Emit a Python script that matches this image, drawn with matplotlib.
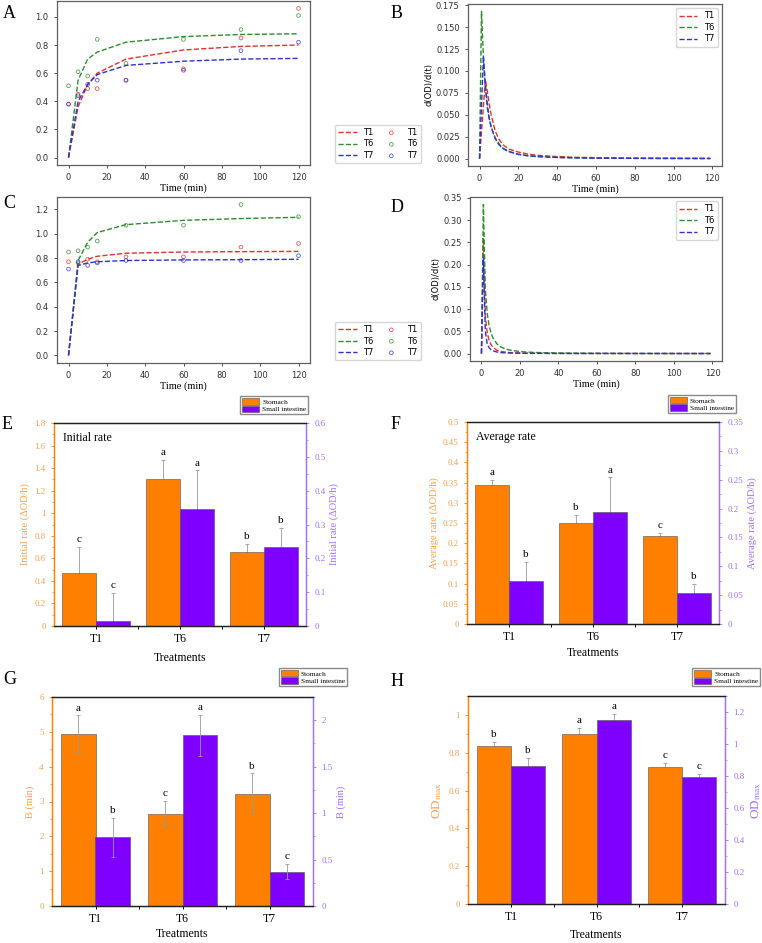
import matplotlib
matplotlib.use('Agg')
import matplotlib.pyplot as plt
import numpy as np
from matplotlib.ticker import MultipleLocator, FuncFormatter, AutoMinorLocator, FixedLocator
from matplotlib.patches import Patch

plt.rcParams['mathtext.fontset'] = 'stix'

# ---- time course data ----
times = [0, 5, 10, 15, 30, 60, 90, 120]
groups = ['T1', 'T6', 'T7']

# stomach (A)
st_obs_t1 = [0.38, 0.45, 0.49, 0.49, 0.55, 0.63, 0.85, 1.06]
st_obs_t6 = [0.51, 0.61, 0.58, 0.84, 0.67, 0.84, 0.91, 1.01]
st_obs_t7 = [0.38, 0.44, 0.52, 0.55, 0.55, 0.62, 0.76, 0.82]
st_fit_t1 = [0, 0.36, 0.52, 0.60, 0.70, 0.765, 0.79, 0.80]
st_fit_t6 = [0, 0.55, 0.70, 0.75, 0.82, 0.86, 0.875, 0.88]
st_fit_t7 = [0, 0.40, 0.52, 0.59, 0.655, 0.685, 0.70, 0.705]

# small intestine (C)
si_obs_t1 = [0.77, 0.76, 0.79, 0.77, 0.81, 0.81, 0.89, 0.92]
si_obs_t6 = [0.85, 0.86, 0.89, 0.94, 1.07, 1.07, 1.24, 1.14]
si_obs_t7 = [0.71, 0.77, 0.74, 0.76, 0.78, 0.78, 0.78, 0.82]
si_fit_t1 = [0, 0.75, 0.79, 0.815, 0.84, 0.85, 0.853, 0.855]
si_fit_t6 = [0, 0.78, 0.93, 1.01, 1.075, 1.11, 1.125, 1.135]
si_fit_t7 = [0, 0.74, 0.76, 0.77, 0.78, 0.785, 0.787, 0.79]

# derivative curves (B, D)
rate_t = [0, 1, 2, 3, 4, 5, 6, 8, 10, 12, 15, 20, 25, 30, 40, 50, 60, 80, 100, 119]
st_rate_t1 = [0, 0.03, 0.06, 0.09, 0.077, 0.062, 0.05, 0.032, 0.022, 0.016, 0.011, 0.0075,
              0.0052, 0.0038, 0.0023, 0.0015, 0.0011, 0.0006, 0.0004, 0.0003]
st_rate_t6 = [0, 0.168, 0.115, 0.08, 0.058, 0.045, 0.036, 0.024, 0.017, 0.012, 0.0085, 0.005,
              0.0033, 0.0024, 0.0014, 0.0009, 0.0006, 0.0003, 0.0002, 0.0002]
st_rate_t7 = [0, 0.06, 0.117, 0.084, 0.062, 0.046, 0.036, 0.023, 0.016, 0.0115, 0.008, 0.0048,
              0.0032, 0.0023, 0.0013, 0.0009, 0.0006, 0.0003, 0.0002, 0.0001]
si_rate_t1 = [0, 0.26, 0.085, 0.046, 0.029, 0.02, 0.0135, 0.0075, 0.0048, 0.0034, 0.0022, 0.0013,
              0.0009, 0.0006, 0.0004, 0.0002, 0.00015, 0.0001, 0.00005, 0.00004]
si_rate_t6 = [0, 0.335, 0.145, 0.09, 0.062, 0.046, 0.035, 0.022, 0.015, 0.011, 0.0075, 0.0045,
              0.003, 0.0021, 0.0012, 0.0008, 0.0006, 0.0003, 0.0002, 0.00015]
si_rate_t7 = [0, 0.215, 0.05, 0.022, 0.013, 0.0085, 0.006, 0.0035, 0.0022, 0.0016, 0.001, 0.0006,
              0.0004, 0.0003, 0.0002, 0.0001, 0.0001, 0.00005, 0.00003, 0.00002]

# ---- bar data ----
init_st = [0.47, 1.30, 0.66]
init_st_err = [0.23, 0.17, 0.07]
init_si = [0.016, 0.345, 0.233]
init_si_err = [0.083, 0.115, 0.057]
init_st_let = ['c', 'a', 'b']
init_si_let = ['c', 'a', 'b']

avg_st = [0.343, 0.251, 0.217]
avg_st_err = [0.014, 0.02, 0.009]
avg_si = [0.075, 0.194, 0.054]
avg_si_err = [0.032, 0.06, 0.015]
avg_st_let = ['a', 'b', 'c']
avg_si_let = ['b', 'a', 'b']

b_st = [4.95, 2.65, 3.21]
b_st_err = [0.52, 0.36, 0.60]
b_si = [0.74, 1.84, 0.37]
b_si_err = [0.21, 0.22, 0.08]
b_st_let = ['a', 'c', 'b']
b_si_let = ['b', 'a', 'c']

od_st = [0.836, 0.901, 0.727]
od_st_err = [0.02, 0.03, 0.019]
od_si = [0.862, 1.152, 0.794]
od_si_err = [0.05, 0.038, 0.018]
od_st_let = ['b', 'a', 'c']
od_si_let = ['b', 'a', 'c']

LINE_COLORS = ['#e03030', '#2e8b2e', '#3030d0']
ORANGE = '#ff8000'
PURPLE = '#8000ff'
ORANGE_TXT = '#f5a050'
PURPLE_TXT = '#a070ff'
SERIF = 'Liberation Serif'

fig = plt.figure(figsize=(7.62, 9.43), dpi=100)


def px_axes(x0, y0, x1, y1):
    return fig.add_axes([x0 / 762, 1 - y1 / 943, (x1 - x0) / 762, (y1 - y0) / 943])


def style_time_axes(ax):
    for s in ax.spines.values():
        s.set_color('#606060')
        s.set_linewidth(0.9)
    ax.tick_params(labelsize=6, length=2.5, width=0.6, colors='#303030')
    ax.set_xlabel('Time (min)', family=SERIF, fontsize=7.5, labelpad=1)


def fit_panel(ax, obs, fits):
    lines, dots = [], []
    for o, f, c, g in zip(obs, fits, LINE_COLORS, groups):
        ln, = ax.plot(times, f, '--', color=c, lw=1.0, label=g)
        sc = ax.scatter(times, o, s=7, facecolors='none', edgecolors=c, linewidths=0.6, alpha=0.8, label=g)
        lines.append(ln)
        dots.append(sc)
    style_time_axes(ax)
    ax.set_xticks([0, 20, 40, 60, 80, 100, 120])
    return lines + dots


def rate_panel(ax, rates):
    for r, c, g in zip(rates, LINE_COLORS, groups):
        ax.plot(rate_t, r, '--', color=c, lw=1.0, label=g)
    style_time_axes(ax)
    ax.set_xticks([0, 20, 40, 60, 80, 100, 120])
    ax.set_ylabel('d(OD)/d(t)', fontsize=6, labelpad=2)
    ax.legend(loc='upper right', fontsize=6, handlelength=2.2, borderpad=0.4, labelspacing=0.3)


fmt = FuncFormatter(lambda v, p: '%g' % round(v, 4))


def bar_panel(ax, st, st_err, si, si_err, st_let, si_let, ylim_l, step_l, ylim_r, step_r,
              ylab, leg_anchor, title=None, err_front=False, ylab_size=7.5, xpad=5):
    x = np.arange(1, 4)
    w = 0.4
    ax2 = ax.twinx()
    ez = 4 if err_front else 1
    ax.bar(x - w / 2, st, w, color=ORANGE, edgecolor='#505050', linewidth=0.4, zorder=2)
    ax.errorbar(x - w / 2, st, yerr=st_err, fmt='none', ecolor='#9a9a9a', elinewidth=0.6,
                capsize=1.5, capthick=0.6, zorder=ez)
    ax2.bar(x + w / 2, si, w, color=PURPLE, edgecolor='#505050', linewidth=0.4, zorder=2)
    ax2.errorbar(x + w / 2, si, yerr=si_err, fmt='none', ecolor='#9a9a9a', elinewidth=0.6,
                 capsize=1.5, capthick=0.6, zorder=ez)
    for xi, v, e, l in zip(x - w / 2, st, st_err, st_let):
        ax.annotate(l, (xi, v + e), xytext=(0, 2), textcoords='offset points', ha='center',
                    va='bottom', fontsize=8, family=SERIF)
    for xi, v, e, l in zip(x + w / 2, si, si_err, si_let):
        ax2.annotate(l, (xi, v + e), xytext=(0, 2), textcoords='offset points', ha='center',
                     va='bottom', fontsize=8, family=SERIF)
    ax.set_xlim(0.5, 3.5)
    ax.set_ylim(*ylim_l)
    ax2.set_ylim(*ylim_r)
    ax.yaxis.set_major_locator(MultipleLocator(step_l))
    ax2.yaxis.set_major_locator(MultipleLocator(step_r))
    ax.yaxis.set_minor_locator(AutoMinorLocator(2))
    ax2.yaxis.set_minor_locator(AutoMinorLocator(2))
    ax.yaxis.set_major_formatter(fmt)
    ax2.yaxis.set_major_formatter(fmt)
    ax.set_xticks(x)
    ax.set_xticklabels(groups, family=SERIF, fontsize=8.5)
    ax.xaxis.set_minor_locator(FixedLocator([1.5, 2.5]))
    ax.tick_params(axis='x', which='both', length=2.5, width=0.7, pad=2.5)
    ax.tick_params(axis='y', which='major', colors=ORANGE, labelcolor=ORANGE_TXT, labelsize=6.5,
                   length=2.5, width=0.6)
    ax.tick_params(axis='y', which='minor', colors=ORANGE, length=1.5, width=0.5)
    ax2.tick_params(axis='y', which='major', colors=PURPLE_TXT, labelcolor=PURPLE_TXT, labelsize=6.5,
                    length=2.5, width=0.6)
    ax2.tick_params(axis='y', which='minor', colors=PURPLE_TXT, length=1.5, width=0.5)
    for a in (ax, ax2):
        a.spines['left'].set_color(ORANGE)
        a.spines['right'].set_color(PURPLE_TXT)
        a.spines['top'].set_color('#202020')
        a.spines['bottom'].set_color('#202020')
        for s in a.spines.values():
            s.set_linewidth(0.9)
    for lab in ax.get_yticklabels() + ax2.get_yticklabels():
        lab.set_family(SERIF)
    ax.set_xlabel('Treatments', family=SERIF, fontsize=8.5, labelpad=xpad)
    ax.set_ylabel(ylab, family=SERIF, fontsize=ylab_size, color=ORANGE_TXT, labelpad=3)
    ax2.set_ylabel(ylab, family=SERIF, fontsize=ylab_size, color=PURPLE_TXT, labelpad=3)
    if title:
        ax.text(0.035, 0.925, title, transform=ax.transAxes, family=SERIF, fontsize=8.5, va='center')
    handles = [Patch(facecolor=ORANGE, edgecolor='#505050', linewidth=0.4),
               Patch(facecolor=PURPLE, edgecolor='#505050', linewidth=0.4)]
    ax2.legend(handles, ['Stomach', 'Small intestine'], loc='lower right', bbox_to_anchor=leg_anchor,
               prop={'family': SERIF, 'size': 5.2}, fancybox=False, edgecolor='#8a8a8a', framealpha=1,
               borderpad=0.25, handlelength=2.4, handleheight=1.0, labelspacing=0.1,
               handletextpad=0.4, borderaxespad=0)


# ---- panels A-D ----
axA = px_axes(57, 1, 310, 165)
hA = fit_panel(axA, [st_obs_t1, st_obs_t6, st_obs_t7], [st_fit_t1, st_fit_t6, st_fit_t7])
fig.legend(hA, groups + groups, ncol=2, loc='center', bbox_to_anchor=(378 / 762, 1 - 144 / 943),
           fontsize=6, handlelength=2.2, borderpad=0.4, labelspacing=0.3, columnspacing=1.0)

axB = px_axes(468, 4, 722, 166)
rate_panel(axB, [st_rate_t1, st_rate_t6, st_rate_t7])

axC = px_axes(57, 197, 310, 363)
hC = fit_panel(axC, [si_obs_t1, si_obs_t6, si_obs_t7], [si_fit_t1, si_fit_t6, si_fit_t7])
fig.legend(hC, groups + groups, ncol=2, loc='center', bbox_to_anchor=(378 / 762, 1 - 341 / 943),
           fontsize=6, handlelength=2.2, borderpad=0.4, labelspacing=0.3, columnspacing=1.0)

axD = px_axes(470, 197, 722, 361)
rate_panel(axD, [si_rate_t1, si_rate_t6, si_rate_t7])

# ---- panels E-H ----
axE = px_axes(54, 423, 306, 626)
bar_panel(axE, init_st, init_st_err, init_si, init_si_err, init_st_let, init_si_let,
          (0, 1.8), 0.2, (0, 0.6), 0.1, 'Initial rate (ΔOD/h)', (1.008, 1.044), title='Initial rate')

axF = px_axes(467, 422, 719, 624)
bar_panel(axF, avg_st, avg_st_err, avg_si, avg_si_err, avg_st_let, avg_si_let,
          (0, 0.5), 0.05, (0, 0.35), 0.05, 'Average rate (ΔOD/h)', (1.067, 1.045), title='Average rate',
          xpad=3)

axG = px_axes(52, 697, 313, 906)
bar_panel(axG, b_st, b_st_err, b_si, b_si_err, b_st_let, b_si_let,
          (0, 6), 1, (0, 2.25), 0.5, 'B (min)', (1.13, 1.053), err_front=True, xpad=2)

axH = px_axes(468, 696, 725, 904)
bar_panel(axH, od_st, od_st_err, od_si, od_si_err, od_st_let, od_si_let,
          (0, 1.1), 0.2, (0, 1.3), 0.2, 'OD$_{\\mathrm{max}}$', (1.136, 1.048), ylab_size=9.5, xpad=4)

# panel letters
for lab, x, y in [('A', 3, 14), ('B', 391, 14), ('C', 3, 203), ('D', 391, 208),
                  ('E', 2, 425), ('F', 391, 425), ('G', 3, 680), ('H', 391, 681)]:
    fig.text(x / 762, 1 - y / 943, lab, family=SERIF, fontsize=13, va='center', ha='left')

fig.savefig('out.png', dpi=100)
